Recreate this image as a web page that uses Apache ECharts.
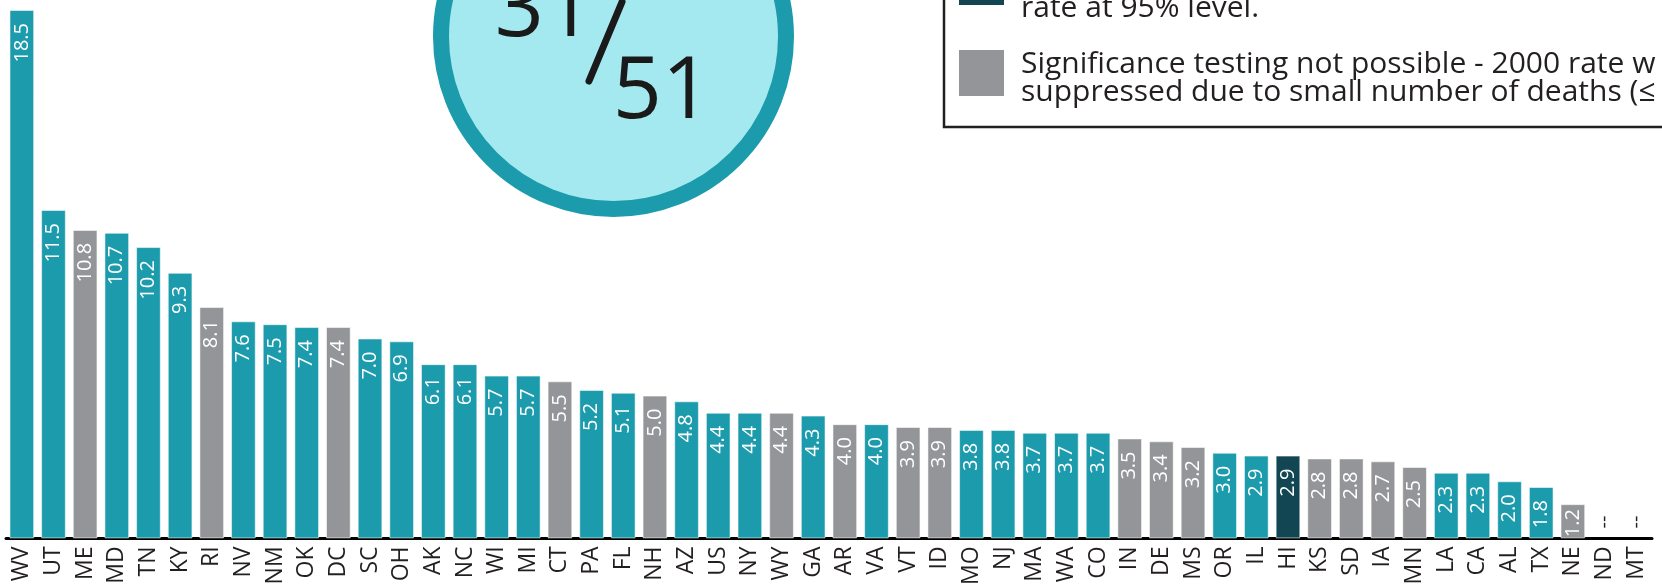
<!DOCTYPE html>
<html>
<head>
<meta charset="utf-8">
<script src="https://cdn.jsdelivr.net/npm/echarts@6/dist/echarts.min.js"></script>
<style>
html,body{margin:0;padding:0;background:#fff;}
#c{width:1662px;height:588px;}
</style>
</head>
<body>
<div id="c"></div>
<script>
// ---- data ----
const states = ['WV','UT','ME','MD','TN','KY','RI','NV','NM','OK','DC','SC','OH','AK','NC','WI','MI','CT','PA','FL','NH','AZ','US','NY','WY','GA','AR','VA','VT','ID','MO','NJ','MA','WA','CO','IN','DE','MS','OR','IL','HI','KS','SD','IA','MN','LA','CA','AL','TX','NE','ND','MT'];
const rates = [18.5,11.5,10.8,10.7,10.2,9.3,8.1,7.6,7.5,7.4,7.4,7.0,6.9,6.1,6.1,5.7,5.7,5.5,5.2,5.1,5.0,4.8,4.4,4.4,4.4,4.3,4.0,4.0,3.9,3.9,3.8,3.8,3.7,3.7,3.7,3.5,3.4,3.2,3.0,2.9,2.9,2.8,2.8,2.7,2.5,2.3,2.3,2.0,1.8,1.2,null,null];
// s = significant increase, n = not testable, d = significant (dark)
const status = ['s','s','n','s','s','s','n','s','s','s','n','s','s','s','s','s','s','n','s','s','n','s','s','s','n','s','n','s','n','n','s','s','s','s','s','n','n','n','s','s','d','n','n','n','n','s','s','s','s','n','n','n'];
const badgeTop = '31';
const badgeBottom = '51';
const legendLines = ['rate at 95% level.', 'Significance testing not possible - 2000 rate w', 'suppressed due to small number of deaths (\u2264'];

const colorMap = {s:'#1b9bab', n:'#939598', d:'#124653'};

const seriesData = rates.map((v,i)=>{
  if (v === null) {
    return {value:0, itemStyle:{color:'transparent', borderWidth:0},
      label:{show:true, position:'top', rotate:90, align:'left', verticalAlign:'middle', distance:10,
        color:'#231f20', fontSize:20, formatter:'--'}};
  }
  const item = {value:v, itemStyle:{color:colorMap[status[i]]}};
  if (v < 1.5) item.label = {distance:5};
  return item;
});

const chart = echarts.init(document.getElementById('c'), null, {renderer:'canvas'});
chart.setOption({
  animation:false,
  grid:{left:6, right:10, top:0, bottom:48, containLabel:false},
  xAxis:{
    type:'category', data:states,
    axisLine:{lineStyle:{color:'#000', width:3}},
    axisTick:{show:false},
    axisLabel:{rotate:90, interval:0, margin:8, fontSize:23, color:'#231f20', fontFamily:'Open Sans'}
  },
  yAxis:{type:'value', min:0, max:18.85, show:false, splitLine:{show:false}},
  series:[{
    type:'bar', data:seriesData, barCategoryGap:'22%',
    itemStyle:{borderColor:'rgba(255,255,255,0.55)', borderWidth:1},
    label:{show:true, position:'insideTop', rotate:90, align:'right', verticalAlign:'middle', distance:13,
      color:'#fff', fontSize:20, fontFamily:'Open Sans',
      formatter:p=>p.value.toFixed(1)}
  }],
  graphic:[
    {type:'circle', shape:{cx:613.5, cy:36.5, r:172.5}, style:{fill:'#a3e9ef', stroke:'#1b9bab', lineWidth:16}, z:10},
    {type:'text', x:544, y:-32, style:{text:badgeTop, fontSize:86, fontFamily:'Open Sans', fill:'#1a1a1a', align:'center', verticalAlign:'top'}, z:11},
    {type:'line', shape:{x1:622, y1:2, x2:589, y2:81}, style:{stroke:'#1a1a1a', lineWidth:7, lineCap:'round'}, z:11},
    {type:'text', x:662, y:50, style:{text:badgeBottom, fontSize:86, fontFamily:'Open Sans', fill:'#1a1a1a', align:'center', verticalAlign:'top'}, z:11},
    {type:'rect', shape:{x:944, y:-20, width:800, height:147}, style:{fill:'#fff', stroke:'#231f20', lineWidth:2.5}, z:10},
    {type:'rect', shape:{x:959, y:-30, width:45, height:35}, style:{fill:'#124653'}, z:11},
    {type:'rect', shape:{x:959, y:50, width:45, height:46}, style:{fill:'#939598'}, z:11},
    {type:'text', x:1021, y:-7, style:{text:legendLines[0], fontSize:30, fontFamily:'Open Sans', fill:'#231f20', verticalAlign:'top'}, z:11},
    {type:'text', x:1021, y:49, style:{text:legendLines[1], fontSize:30, fontFamily:'Open Sans', fill:'#231f20', verticalAlign:'top'}, z:11},
    {type:'text', x:1021, y:77, style:{text:legendLines[2], fontSize:30, fontFamily:'Open Sans', fill:'#231f20', verticalAlign:'top'}, z:11}
  ]
});
</script>
</body>
</html>
